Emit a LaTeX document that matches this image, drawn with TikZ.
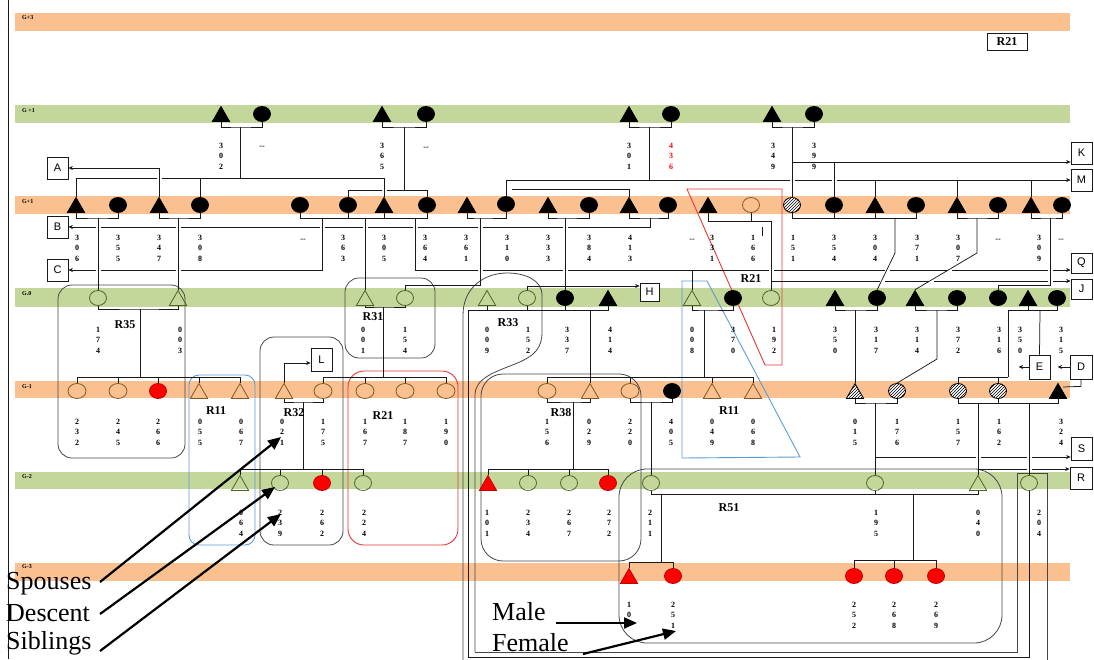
\documentclass[tikz,border=0pt]{standalone}
\usepackage{fontspec}
\setmainfont{Liberation Serif}
\newfontfamily\sansf{Liberation Sans}
\usetikzlibrary{shapes.geometric,patterns,arrows.meta}
\pgfdeclarelayer{back}
\pgfsetlayers{back,main}
\definecolor{bandO}{RGB}{250,192,144}
\definecolor{bandG}{RGB}{196,215,155}
\definecolor{obrown}{RGB}{125,90,35}
\definecolor{ogreen}{RGB}{79,98,40}
\definecolor{lnc}{RGB}{25,25,25}
\definecolor{blu}{RGB}{91,155,213}
\definecolor{rdl}{RGB}{230,55,55}
\definecolor{rgn}{RGB}{70,70,70}
\newcounter{numc}
\newcommand\Num[5]{\stepcounter{numc}\node[dig] (nm\arabic{numc}) at (#1,#2) {#3\\#4\\#5};}
\newcommand\NumR[5]{\stepcounter{numc}\node[dig,text=red] (nm\arabic{numc}) at (#1,#2) {#3\\#4\\#5};}
\newcommand\Dsh[2]{\stepcounter{numc}\node[dig] (nm\arabic{numc}) at (#1,#2) {-{}-};}
\newcommand\lgap[2]{\fill[white] (#1-2.5,#2-1.8) rectangle (#1+2.5,#2+1.8);}
\newcommand\Tri[4]{\node[ml,#4] (#1) at (#2,#3+2.5) {};}
\newcommand\Cir[4]{\node[fm,#4] (#1) at (#2,#3) {};}
\newcommand\Stub[2]{\draw[ln] (#1) -- (#1 |- 0,#2);}
\begin{document}
\begin{tikzpicture}[x=1pt,y=-1pt,
 ln/.style={draw=lnc,line width=0.75pt},
 arr/.style={draw=lnc,line width=0.75pt,-{Stealth[length=4.5pt,width=4pt]}},
 rg/.style={draw=rgn,line width=0.8pt,rounded corners=14pt},
 fm/.style={ellipse,minimum width=17pt,minimum height=15pt,inner sep=0pt,line width=0.8pt},
 ml/.style={regular polygon,regular polygon sides=3,minimum size=20pt,inner sep=0pt,line width=0.8pt},
 blk/.style={fill=black,draw=black},
 opo/.style={draw=obrown},
 opg/.style={draw=ogreen},
 rf/.style={fill=red,draw=red!75!black},
 hat/.style={draw=black,preaction={fill=white},pattern=north east lines},
 dig/.style={font=\fontsize{8}{10.5}\selectfont\bfseries,align=center,inner sep=0pt},
 lbl/.style={font=\fontsize{12}{12}\selectfont\bfseries,inner sep=0pt},
 gl/.style={font=\fontsize{6}{6}\selectfont\bfseries,anchor=west,inner sep=0pt},
 lbox/.style={draw=lnc,fill=white,line width=0.7pt,minimum width=21pt,minimum height=22pt,inner sep=0pt,font=\sansf\fontsize{11}{11}\selectfont},
 big/.style={font=\fontsize{26}{26}\selectfont,anchor=west,inner sep=0pt},
 legarr/.style={draw=black,line width=2.2pt,-{Triangle[length=13pt,width=11pt]}}
]
\useasboundingbox (0,0) rectangle (1094,659);

% ---------- symbols: top green row
\Tri{t1}{221}{114}{blk} \Cir{t1f}{262}{114}{blk}
\Tri{t2}{382}{114}{blk} \Cir{t2f}{426}{114}{blk}
\Tri{t3}{629}{114}{blk} \Cir{t3f}{671}{114}{blk}
\Tri{t4}{772}{114}{blk} \Cir{t4f}{814}{114}{blk}
% G+1
\Tri{a1}{76}{205}{blk} \Cir{a2}{118}{205}{blk} \Tri{a3}{159}{205}{blk} \Cir{a4}{200}{205}{blk}
\Cir{a5}{300}{205}{blk} \Cir{a6}{348}{205}{blk} \Tri{a7}{384}{205}{blk} \Cir{a8}{427}{205}{blk}
\Tri{a9}{467}{205}{blk} \Cir{a10}{506}{204}{blk} \Tri{a11}{548}{205}{blk} \Cir{a12}{589}{205}{blk}
\Tri{a13}{629}{205}{blk} \Cir{a14}{668}{205}{blk} \Tri{a15}{708}{205}{blk} \Cir{a16}{751}{205}{opo}
\Cir{a17}{792}{205}{hat} \Cir{a18}{834}{205}{blk} \Tri{a19}{875}{205}{blk} \Cir{a20}{916}{205}{blk}
\Tri{a21}{957}{205}{blk} \Cir{a22}{998}{205}{blk} \Tri{a23}{1031}{205}{blk} \Cir{a24}{1062}{205}{blk}
% G.0
\Cir{b1}{98}{298}{opg} \Tri{b2}{178}{298}{opg} \Tri{b3}{365}{298}{opg} \Cir{b4}{405}{298}{opg}
\Tri{b5}{487}{298}{opg} \Cir{b6}{527}{298}{opg} \Cir{b7}{565}{298}{blk} \Tri{b8}{608}{298}{blk}
\Tri{b9}{692}{298}{opg} \Cir{b10}{733}{298}{blk} \Cir{b11}{771}{298}{opg} \Tri{b12}{835}{298}{blk}
\Cir{b13}{877}{298}{blk} \Tri{b14}{915}{298}{blk} \Cir{b15}{957}{298}{blk} \Cir{b16}{998}{298}{blk}
\Tri{b17}{1028}{298}{blk} \Cir{b18}{1057}{298}{blk}
% G-1
\Cir{c1}{77}{391}{opo,minimum width=18pt} \Cir{c2}{118}{391}{opo,minimum width=18pt} \Cir{c3}{158}{391}{rf}
\Tri{c4}{199}{391}{opo} \Tri{c5}{240}{391}{opo} \Tri{c6}{284}{391}{opo} \Cir{c7}{323}{391}{opo,minimum width=18pt}
\Cir{c8}{365}{391}{opo,minimum width=18pt} \Cir{c9}{405}{391}{opo,minimum width=18pt} \Cir{c10}{446}{391}{opo,minimum width=18pt}
\Cir{c11}{547}{391}{opo,minimum width=18pt} \Tri{c12}{590}{391}{opo} \Cir{c13}{630}{391}{opo,minimum width=18pt}
\Cir{c14}{672}{391}{blk} \Tri{c15}{712}{391}{opo} \Tri{c16}{753}{391}{opo}
\Tri{c17}{855}{391}{hat} \Cir{c18}{897}{391}{hat} \Cir{c19}{958}{391}{hat} \Cir{c20}{998}{391}{hat} \Tri{c21}{1058}{391}{blk}
% G-2
\Tri{d1}{240}{483}{opg} \Cir{d2}{280}{483}{opg} \Cir{d3}{322}{483}{rf} \Cir{d4}{363}{483}{opg}
\Tri{d5}{488}{483}{rf} \Cir{d6}{528}{483}{opg} \Cir{d7}{569}{483}{opg} \Cir{d8}{608}{483}{rf}
\Cir{d9}{651}{483}{opg} \Cir{d10}{875}{483}{opg} \Tri{d11}{978}{483}{opg} \Cir{d12}{1029}{483}{opg}
% G-3
\Tri{e1}{629}{576}{rf} \Cir{e2}{673}{576}{rf} \Cir{e3}{854}{576}{rf} \Cir{e4}{894}{576}{rf} \Cir{e5}{936}{576}{rf}

% ---------- letter boxes
\node[lbox] (A) at (57.5,168) {A};
\node[lbox] (B) at (57.5,227) {B};
\node[lbox] (C) at (57.5,270) {C};
\node[lbox] (K) at (1081.5,153) {K};
\node[lbox] (M) at (1081.5,180) {M};
\node[lbox,minimum height=20pt] (Q) at (1081.5,263) {Q};
\node[lbox,minimum height=20pt] (J) at (1081.5,289) {J};
\node[lbox,minimum width=19pt,minimum height=18pt] (H) at (649.5,292) {H};
\node[lbox,minimum height=23pt] (L) at (321.5,359.5) {L};
\node[lbox,minimum height=24pt] (E) at (1039.5,367) {E};
\node[lbox,minimum width=22pt,minimum height=24pt] (D) at (1081,367) {D};
\node[lbox,minimum height=23pt] (S) at (1081.5,448.5) {S};
\node[lbox,minimum width=22pt] (R) at (1081,478) {R};
\node[draw=lnc,line width=0.8pt,lbl,minimum width=40pt,minimum height=17pt] (r21top) at (1007,41.5) {R21};

\begin{pgfonlayer}{back}
% bands
\fill[bandO] (15,13) rectangle (1070,31);
\fill[bandG] (15,105) rectangle (1070,123);
\fill[bandO] (15,196) rectangle (1070,214);
\fill[bandG] (15,288) rectangle (1070,307);
\fill[bandO] (15,381) rectangle (1070,398);
\fill[bandG] (15,472) rectangle (1070,489);
\fill[bandO] (15,563) rectangle (1070,581);
\draw[ln] (8,0) -- (8,659);
% regions
\draw[rg] (58,285) rectangle (185,458);
\draw[draw=blu,line width=0.9pt,rounded corners=10pt] (189,375) rectangle (255,545);
\draw[rg] (260,337) rectangle (343,545);
\draw[rg] (345,278) rectangle (435,358);
\draw[draw=rdl,line width=0.9pt,rounded corners=16pt] (348,371) rectangle (458,545);
\draw[rg,rounded corners=22pt] (481,374) rectangle (641,561);
\draw[rg,rounded corners=28pt] (619,469) rectangle (1002,643);
\draw[draw=blu,line width=0.9pt] (682,281) -- (707,281) -- (800,457) -- (682,458) -- cycle;
\draw[draw=rdl,line width=0.9pt] (687,189) -- (782,189) -- (782,365) -- (765,365) -- cycle;
\draw[draw=rgn,line width=0.8pt] (475,652) -- (475,395) .. controls (475,378) and (495,372) .. (515,364)
  .. controls (535,356) and (542,348) .. (542,332) -- (542,295) .. controls (542,280) and (525,273) .. (507,273)
  .. controls (485,273) and (463,287) .. (463,315) -- (463,670);
\draw[draw=rgn,line width=0.8pt] (475,652) -- (1017,652) -- (1017,473) -- (1047,473) -- (1047,670);

% top couples
\draw[ln] (t1.south) |- (240,127) -| (t1f.south);
\draw[ln] (240,127) -- (240,178);
\draw[ln] (t2.south) |- (404,127) -| (t2f.south);
\draw[ln] (404,127) -- (404,190);
\draw[ln] (t3.south) |- (649,127) -| (t3f.south);
\draw[ln] (649,127) -- (649,180);
\draw[ln] (t4.south) |- (792,127) -| (t4f.south);
% sibling lines above G+1
\draw[arr] (507,180) -- (M.west |- 0,180);
\Stub{a10.north}{180} \Stub{a19.north}{180} \Stub{a21.north}{180} \Stub{a23.north}{180}
\draw[ln] (a6.north) |- (a8.north |- 0,190) -- (a8.north);
\draw[ln] (512,189) -| (a13.north);
\lgap{384}{190} \lgap{792}{180} \lgap{834}{180}
\draw[ln] (a1.north) |- (a7.north |- 0,178) -- (a7.north);
\Stub{a4.north}{178}
\lgap{159}{178}
\draw[arr] (a3.north) |- (A.east);
\draw[ln] (792,127) -- (a17.north);
\draw[arr] (792,162) -- (K.west |- 0,162);
\draw[ln] (834,162) -- (a18.north);
% below G+1
\draw[ln] (a13.south) |- (650,218) -| (a14.south);
\draw[arr] (650,218) |- (B.east);
\lgap{98}{227} \lgap{178}{227} \lgap{322}{227} \lgap{365}{227} \lgap{415}{227} \lgap{480}{227} \lgap{565}{227}
\draw[arr] (322,218) |- (C.east);
\draw[arr] (415,218) |- (Q.west |- 0,270);
\lgap{98}{270} \lgap{178}{270}
\lgap{480}{270} \lgap{565}{270} \lgap{771}{270} \lgap{887}{270} \lgap{949}{270} \lgap{1050}{270}
\draw[ln] (a15.south) |- (771,221);
\Stub{a16.south}{221}
\draw[arr] (771,221) |- (J.west |- 0,281);
\lgap{882}{281} \lgap{931}{281} \lgap{1050}{281}
\draw[ln] (771,281) -- (b11.north);
\draw[ln] (762,227) -- (762,236);
\draw[ln] (a1.south) |- (98,218) -| (a2.south);
\draw[ln] (98,218) -- (b1.north);
\draw[ln] (a3.south) |- (178,218) -| (a4.south);
\draw[ln] (178,218) -- (b2.north);
\draw[ln] (a5.south) |- (a8.south |- 0,218) -- (a8.south);
\Stub{a6.south}{218} \Stub{a7.south}{218}
\draw[ln] (365,218) -- (b3.north);
\draw[ln] (a9.south) |- (480,218) -| (a10.south);
\draw[ln] (480,218) |- (405,285) -- (b4.north);
\draw[ln] (a11.south) |- (565,218) -| (a12.south);
\draw[ln] (565,218) -- (b7.north);
\draw[ln] (a17.south) |- (a20.south |- 0,218) -- (a20.south);
\Stub{a18.south}{218} \Stub{a19.south}{218}
\draw[ln] (895,218) -- (895,253) -- (b13.north);
\draw[ln] (a21.south) |- (977,218) -| (a22.south);
\draw[ln] (977,218) -- (977,253) -- (b14.north);
\draw[ln] (a23.south) |- (1050,218) -| (a24.south);
\draw[ln] (1050,218) |- (998,285) -- (b16.north);
\draw[ln] (b9.north) -- (b9.north |- 0,270);
\draw[arr] (b6.north) |- (H.west |- 0,286);
% G.0 couples
\draw[ln] (b1.south) |- (140,309) -| (b2.south);
\draw[ln] (140,309) -- (140,377);
\draw[ln] (b3.south) |- (383,307) -| (b4.south);
\draw[ln] (383,307) -- (383,377);
\draw[ln] (d12.south) |- (468,657) |- (b8.south |- 0,310) -- (b8.south);
\Stub{b5.south}{310} \Stub{b6.south}{310} \Stub{b7.south}{310}
\draw[ln] (590,310) -- (c12.north);
\draw[ln] (b9.south) |- (704,310) -| (b10.south);
\draw[ln] (704,310) -- (704,377);
\draw[ln] (b12.south) |- (855,310) -| (b13.south);
\draw[ln] (855,310) -- (c17.north);
\draw[ln] (b14.south) |- (937,310) -| (b15.south);
\draw[ln] (937,310) -- (937,359) -- (c18.north);
\draw[ln] (1008,310) -- (b18.south |- 0,310) -- (b18.south);
\Stub{b17.south}{310}
\draw[ln] (1008,310) -- (1008,377);
\draw[ln] (1040,310) -- (E.north);
\draw[arr] (E.west) -- ++(-10,0);
\draw[arr] (D.west) -- ++(-12,0);
\draw[ln] (D.south) -- ++(0,7) -- (1063,387);
% G-1 siblings and couples
\draw[ln] (c1.north) |- (c5.north |- 0,377) -- (c5.north);
\Stub{c2.north}{377} \Stub{c3.north}{377} \Stub{c4.north}{377}
\draw[ln] (c7.north) |- (c10.north |- 0,377) -- (c10.north);
\Stub{c8.north}{377} \Stub{c9.north}{377}
\draw[ln] (c11.north) |- (c16.north |- 0,377) -- (c16.north);
\Stub{c13.north}{377} \Stub{c15.north}{377}
\draw[ln] (c19.north) |- (1008,377);
\Stub{c20.north}{377}
\draw[arr] (c6.north) |- (L.west |- 0,363);
\draw[ln] (c6.south) |- (303,402) -| (c7.south);
\draw[ln] (303,402) -- (303,469);
\draw[ln] (c11.south) |- (573,402) -| (c12.south);
\draw[ln] (573,402) -- (573,469);
\draw[ln] (c13.south) |- (651,402) -| (c14.south);
\draw[ln] (651,402) -- (d9.north);
\draw[ln] (c17.south) |- (875,403) -| (c18.south);
\draw[arr] (875,457) -- (S.west |- 0,457);
\draw[arr] (978,469) -- (R.west |- 0,469);
\lgap{978}{457} \lgap{1029}{457} \lgap{1029}{469}
\draw[ln] (875,403) -- (d10.north);
\draw[ln] (c19.south) |- (c21.south |- 0,403) -- (c21.south);
\Stub{c20.south}{403}
\draw[ln] (978,403) -- (d11.north);
\draw[ln] (1029,403) -- (d12.north);
% G-2
\draw[ln] (d1.north) |- (d4.north |- 0,469) -- (d4.north);
\Stub{d2.north}{469} \Stub{d3.north}{469}
\draw[ln] (d5.north) |- (d8.north |- 0,469) -- (d8.north);
\Stub{d6.north}{469} \Stub{d7.north}{469}
\draw[ln] (d9.south) |- (d11.south |- 0,494) -- (d11.south);
\Stub{d10.south}{494}
\draw[ln] (661,494) -- (661,562);
\draw[ln] (e1.north) |- (e2.north |- 0,562) -- (e2.north);
\draw[ln] (913,494) -- (913,560);
\draw[ln] (e3.north) |- (e5.north |- 0,560) -- (e5.north);
\Stub{e4.north}{560}
\end{pgfonlayer}

% ---------- band labels
\node[gl] (g3) at (22,18) {G+3};
\node[gl] (g2) at (22,111) {G +1};
\node[gl] (g1) at (22,202) {G+1};
\node[gl] (g0) at (22,294) {G.0};
\node[gl] (gm1) at (22,387) {G-1};
\node[gl] (gm2) at (22,477) {G-2};
\node[gl] (gm3) at (22,566.5) {G-3};

% ---------- region labels
\node[lbl] (lR35) at (125,325) {R35};
\node[lbl] (lR31) at (373,317) {R31};
\node[lbl] (lR33) at (508,323) {R33};
\node[lbl] (lR21a) at (751,279) {R21};
\node[lbl] (lR11a) at (216,411) {R11};
\node[lbl] (lR32) at (294,413) {R32};
\node[lbl] (lR21b) at (383,416) {R21};
\node[lbl] (lR38) at (561,413) {R38};
\node[lbl] (lR11b) at (729,411) {R11};
\node[lbl] (lR51) at (729,508) {R51};

% ---------- numbers
\Num{221}{156}{3}{0}{2} \Dsh{262}{147} \Num{382}{156}{3}{6}{5} \Dsh{426}{148}
\Num{629}{156}{3}{0}{1} \NumR{671}{156}{4}{3}{6} \Num{773}{156}{3}{4}{9} \Num{814}{156}{3}{9}{9}

\Num{77}{248}{3}{0}{6} \Num{118}{248}{3}{5}{5} \Num{159}{248}{3}{4}{7} \Num{200}{248}{3}{0}{8}
\Dsh{303}{240} \Num{343}{248}{3}{6}{3} \Num{384}{248}{3}{0}{5} \Num{425}{248}{3}{6}{4}
\Num{466}{248}{3}{6}{1} \Num{507}{248}{3}{1}{0} \Num{548}{248}{3}{3}{3} \Num{589}{248}{3}{8}{4}
\Num{630}{248}{4}{1}{3} \Dsh{692}{240} \Num{712}{248}{3}{3}{1} \Num{753}{248}{1}{6}{6}
\Num{793}{248}{1}{5}{1} \Num{834}{248}{3}{5}{4} \Num{875}{248}{3}{0}{4} \Num{917}{248}{3}{7}{1}
\Num{958}{248}{3}{0}{7} \Dsh{998}{240} \Num{1039}{248}{3}{0}{9} \Dsh{1061}{240}

\Num{98}{340}{1}{7}{4} \Num{180}{340}{0}{0}{3} \Num{363}{340}{0}{0}{1} \Num{405}{340}{1}{5}{4}
\Num{487}{340}{0}{0}{9} \Num{528}{340}{1}{5}{2} \Num{567}{340}{3}{3}{7} \Num{610}{340}{4}{1}{4}
\Num{692}{340}{0}{0}{8} \Num{733}{340}{3}{7}{0} \Num{774}{340}{1}{9}{2} \Num{835}{340}{3}{5}{0}
\Num{876}{340}{3}{1}{7} \Num{917}{340}{3}{1}{4} \Num{958}{340}{3}{7}{2} \Num{999}{340}{3}{1}{6}
\Num{1020}{340}{3}{5}{0} \Num{1061}{340}{3}{1}{5}

\Num{77}{432}{2}{3}{2} \Num{118}{432}{2}{4}{5} \Num{158}{432}{2}{6}{6} \Num{200}{432}{0}{5}{5}
\Num{241}{432}{0}{6}{7} \Num{282}{432}{0}{2}{1} \Num{323}{432}{1}{7}{5} \Num{365}{432}{1}{6}{7}
\Num{405}{432}{1}{8}{7} \Num{446}{432}{1}{9}{0} \Num{547}{432}{1}{5}{6} \Num{589}{432}{0}{2}{9}
\Num{630}{432}{2}{2}{0} \Num{671}{432}{4}{0}{5} \Num{712}{432}{0}{4}{9} \Num{753}{432}{0}{6}{8}
\Num{855}{432}{0}{1}{5} \Num{897}{432}{1}{7}{6} \Num{958}{432}{1}{5}{7} \Num{999}{432}{1}{6}{2}
\Num{1061}{432}{3}{2}{4}

\Num{241}{523}{0}{6}{4} \Num{280}{523}{2}{3}{9} \Num{322}{523}{2}{6}{2} \Num{364}{523}{2}{2}{4}
\Num{487}{523}{1}{0}{1} \Num{528}{523}{2}{3}{4} \Num{569}{523}{2}{6}{7} \Num{609}{523}{2}{7}{2}
\Num{650}{523}{2}{1}{1} \Num{876}{523}{1}{9}{5} \Num{978}{523}{0}{4}{0} \Num{1039}{523}{2}{0}{4}

\node[dig] (nmg3) at (629,610) {1\\0};
\Num{673}{615}{2}{5}{1} \Num{854}{615}{2}{5}{2} \Num{894}{615}{2}{6}{8} \Num{936}{615}{2}{6}{9}

% ---------- legend
\node[big] (tsp) at (6,584) {Spouses};
\node[big] (tde) at (6,613) {Descent};
\node[big] (tsi) at (6,643) {Siblings};
\node[big] (tma) at (492,612) {Male};
\node[big] (tfe) at (492,643) {Female};
\coordinate (spS) at (100,582); \coordinate (spT) at (281,437);
\coordinate (deS) at (100,614); \coordinate (deT) at (275,487);
\coordinate (siS) at (100,651); \coordinate (siT) at (281,514);
\coordinate (maS) at (556,623); \coordinate (maT) at (637,623);
\coordinate (feS) at (583,654); \coordinate (feT) at (676,631);
\draw[legarr] (spS) -- (spT);
\draw[legarr] (deS) -- (deT);
\draw[legarr] (siS) -- (siT);
\draw[legarr] (maS) -- (maT);
\draw[legarr] (feS) -- (feT);
\end{tikzpicture}
\end{document}
